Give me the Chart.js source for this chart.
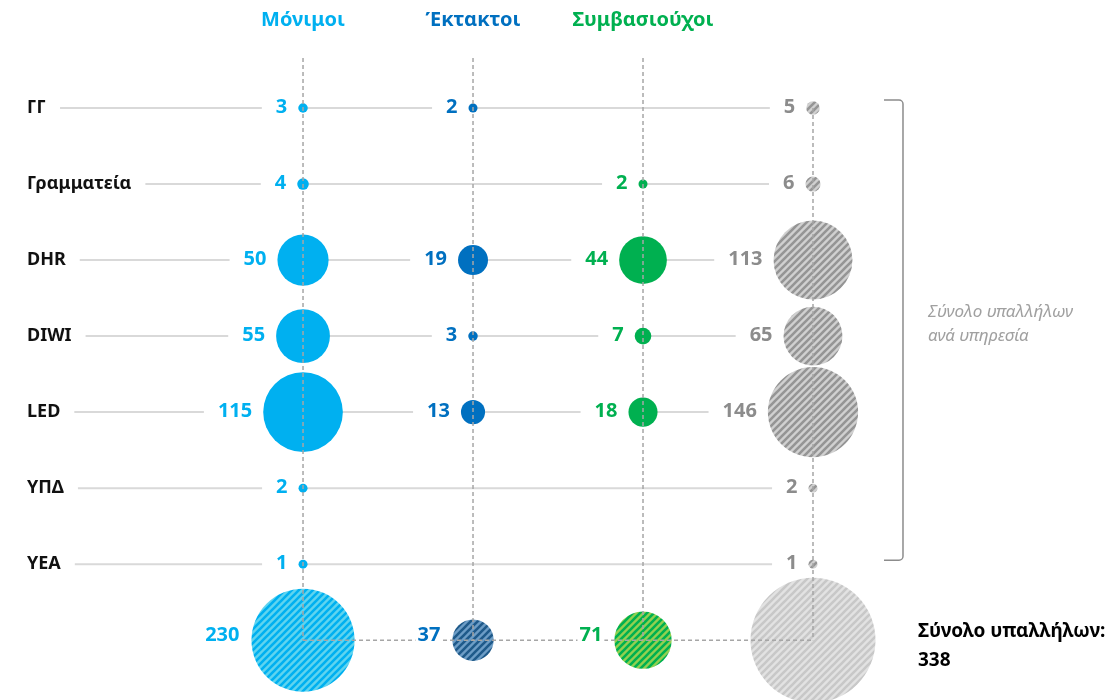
<!DOCTYPE html>
<html>
<head>
<meta charset="utf-8">
<script src="https://cdn.jsdelivr.net/npm/chart.js@4.4.0/dist/chart.umd.min.js"></script>
<style>
  body { margin: 0; background: #fff; }
</style>
</head>
<body>
<canvas id="chart" width="1120" height="700"></canvas>
<script>
// data
const rows = ["ΓΓ", "Γραμματεία", "DHR", "DIWI", "LED", "ΥΠΔ", "ΥΕΑ"];
const columns = ["Μόνιμοι", "Έκτακτοι", "Συμβασιούχοι"];
const monimoi = [3, 4, 50, 55, 115, 2, 1];
const ektaktoi = [2, null, 19, 3, 13, null, null];
const symvasiouxoi = [null, 2, 44, 7, 18, null, null];
const synoloYpiresias = [5, 6, 113, 65, 146, 2, 1];
const synoloKathestotos = [230, 37, 71, 338];

const colColors = ["#00b0f0", "#0070c0", "#00b050", "#8c8c8c"];
const fontFamily = "'Noto Sans', 'Open Sans', sans-serif";

const canvas = document.getElementById("chart");
const ctx = canvas.getContext("2d");

function stripes(bg, fg) {
  const t = document.createElement("canvas");
  t.width = 7;
  t.height = 7;
  const g = t.getContext("2d");
  g.fillStyle = bg;
  g.fillRect(0, 0, 7, 7);
  g.strokeStyle = fg;
  g.lineWidth = 2.6;
  g.beginPath();
  g.moveTo(-1, 8); g.lineTo(8, -1);
  g.moveTo(-1, 1); g.lineTo(1, -1);
  g.moveTo(6, 8); g.lineTo(8, 6);
  g.stroke();
  return ctx.createPattern(t, "repeat");
}

const totalPatterns = [
  stripes("#5fd4ef", "#00b0f0"),
  stripes("#6d9dc6", "#1f5a8a"),
  stripes("#92d050", "#00b050"),
  stripes("#e2e2e2", "#c8c8c8"),
];
const greyPattern = stripes("#d0d0d0", "#959595");

// bubble radius from value
const rowR = (v) => Math.max(4.5, 3.9 * Math.sqrt(v) - 2);
const totR = (v) => 3.4 * Math.sqrt(v);

function points(values, col) {
  const out = [];
  values.forEach((v, i) => {
    if (v == null) return;
    out.push({ x: col, y: i, r: rowR(v), v: v });
  });
  out.push({ x: col, y: rows.length, r: totR(synoloKathestotos[col]), v: synoloKathestotos[col], total: true });
  return out;
}

const series = [monimoi, ektaktoi, symvasiouxoi, synoloYpiresias];

const datasets = series.map((vals, col) => ({
  label: col < 3 ? columns[col] : "Σύνολο",
  data: points(vals, col),
  backgroundColor: (c) => {
    if (c.raw && c.raw.total) return totalPatterns[col];
    return col === 3 ? greyPattern : colColors[col];
  },
  borderWidth: 0,
  hoverBorderWidth: 0,
  clip: false,
}));

const annotations = {
  id: "annotations",
  beforeDatasetsDraw(chart) {
    const { ctx, scales: { x, y } } = chart;
    const greyX = x.getPixelForValue(3);
    ctx.save();
    // row lines
    ctx.font = "bold 18px " + fontFamily;
    ctx.strokeStyle = "#d9d9d9";
    ctx.lineWidth = 2;
    rows.forEach((name, i) => {
      const py = y.getPixelForValue(i);
      const x0 = y.left + ctx.measureText(name).width + 14;
      ctx.beginPath();
      ctx.moveTo(x0, py);
      ctx.lineTo(greyX, py);
      ctx.stroke();
    });
    // value labels
    ctx.font = "bold 20px " + fontFamily;
    ctx.textBaseline = "middle";
    ctx.textAlign = "right";
    chart.data.datasets.forEach((ds, di) => {
      const meta = chart.getDatasetMeta(di);
      meta.data.forEach((pt, j) => {
        const raw = ds.data[j];
        if (raw.total) return;
        const txt = String(raw.v);
        const xr = pt.x - raw.r - 11;
        const w = ctx.measureText(txt).width;
        const left = xr - w - 14;
        const right = Math.min(xr + 17, pt.x);
        ctx.fillStyle = "#fff";
        ctx.fillRect(left, pt.y - 8, right - left, 16);
        ctx.fillStyle = colColors[di];
        ctx.fillText(txt, xr, pt.y - 1);
      });
    });
    ctx.restore();
  },
  afterDatasetsDraw(chart) {
    const { ctx, chartArea, scales: { x, y } } = chart;
    const totY = y.getPixelForValue(rows.length);
    const greyX = x.getPixelForValue(3);
    ctx.save();
    // dashed connectors
    ctx.strokeStyle = "#a6a6a6";
    ctx.lineWidth = 1.5;
    ctx.setLineDash([4, 3]);
    for (let c = 0; c < 4; c++) {
      const px = x.getPixelForValue(c);
      const top = c < 3 ? chartArea.top + 8 : y.getPixelForValue(0);
      ctx.beginPath();
      ctx.moveTo(px, top);
      ctx.lineTo(px, totY);
      ctx.stroke();
    }
    ctx.beginPath();
    ctx.moveTo(x.getPixelForValue(0), totY);
    ctx.lineTo(greyX, totY);
    ctx.stroke();
    ctx.setLineDash([]);

    // total labels
    ctx.font = "bold 20px " + fontFamily;
    ctx.textBaseline = "middle";
    ctx.textAlign = "right";
    for (let c = 0; c < 3; c++) {
      const px = x.getPixelForValue(c);
      const txt = String(synoloKathestotos[c]);
      const xr = px - totR(synoloKathestotos[c]) - 12;
      const w = ctx.measureText(txt).width;
      ctx.fillStyle = "#fff";
      ctx.fillRect(xr - w - 2, totY - 13, w + 4, 15);
      ctx.fillStyle = colColors[c];
      ctx.fillText(txt, xr, totY - 5);
    }

    // bracket
    const bx = greyX + 90;
    const bTop = y.getPixelForValue(0) - 8;
    const bBot = y.getPixelForValue(rows.length - 1) - 4;
    ctx.strokeStyle = "#8c8c8c";
    ctx.lineWidth = 1.5;
    ctx.beginPath();
    ctx.moveTo(bx - 19, bTop);
    ctx.arcTo(bx, bTop, bx, bTop + 8, 4);
    ctx.lineTo(bx, bBot - 4);
    ctx.arcTo(bx, bBot, bx - 19, bBot, 4);
    ctx.lineTo(bx - 19, bBot);
    ctx.stroke();

    // side texts
    const mid = (bTop + bBot) / 2;
    ctx.textAlign = "left";
    ctx.fillStyle = "#a0a0a0";
    ctx.font = "italic 17px " + fontFamily;
    ctx.fillText("Σύνολο υπαλλήλων", bx + 25, mid - 18);
    ctx.fillText("ανά υπηρεσία", bx + 25, mid + 6);

    ctx.fillStyle = "#000";
    ctx.font = "bold 19px " + fontFamily;
    ctx.fillText("Σύνολο υπαλλήλων:", bx + 15, totY - 9);
    ctx.fillText(String(synoloKathestotos[3]), bx + 15, totY + 20);
    ctx.restore();
  },
};

new Chart(ctx, {
  type: "bubble",
  data: { datasets: datasets },
  plugins: [annotations],
  options: {
    responsive: false,
    animation: false,
    layout: { autoPadding: false, padding: { top: 10, left: 27, right: 0, bottom: 0 } },
    plugins: {
      legend: { display: false },
      tooltip: { enabled: false },
    },
    scales: {
      x: {
        type: "linear",
        position: "top",
        min: -0.959,
        max: 4.806,
        grid: { display: false },
        border: { display: false },
        afterFit: (s) => { s.height = 40; },
        afterBuildTicks: (s) => { s.ticks = columns.map((c, i) => ({ value: i })); },
        ticks: {
          padding: 10,
          maxRotation: 0,
          autoSkip: false,
          font: { family: fontFamily, size: 20, weight: "bold" },
          color: (c) => colColors[c.index],
          callback: (v) => columns[v],
        },
      },
      y: {
        type: "linear",
        reverse: true,
        min: -0.763,
        max: 7.605,
        grid: { display: false },
        border: { display: false },
        afterFit: (s) => { s.width = 113; },
        afterBuildTicks: (s) => { s.ticks = rows.map((r, i) => ({ value: i })); },
        ticks: {
          crossAlign: "far",
          autoSkip: false,
          font: { family: fontFamily, size: 18, weight: "bold" },
          color: "#111",
          callback: (v) => rows[v],
        },
      },
    },
  },
});
</script>
</body>
</html>
